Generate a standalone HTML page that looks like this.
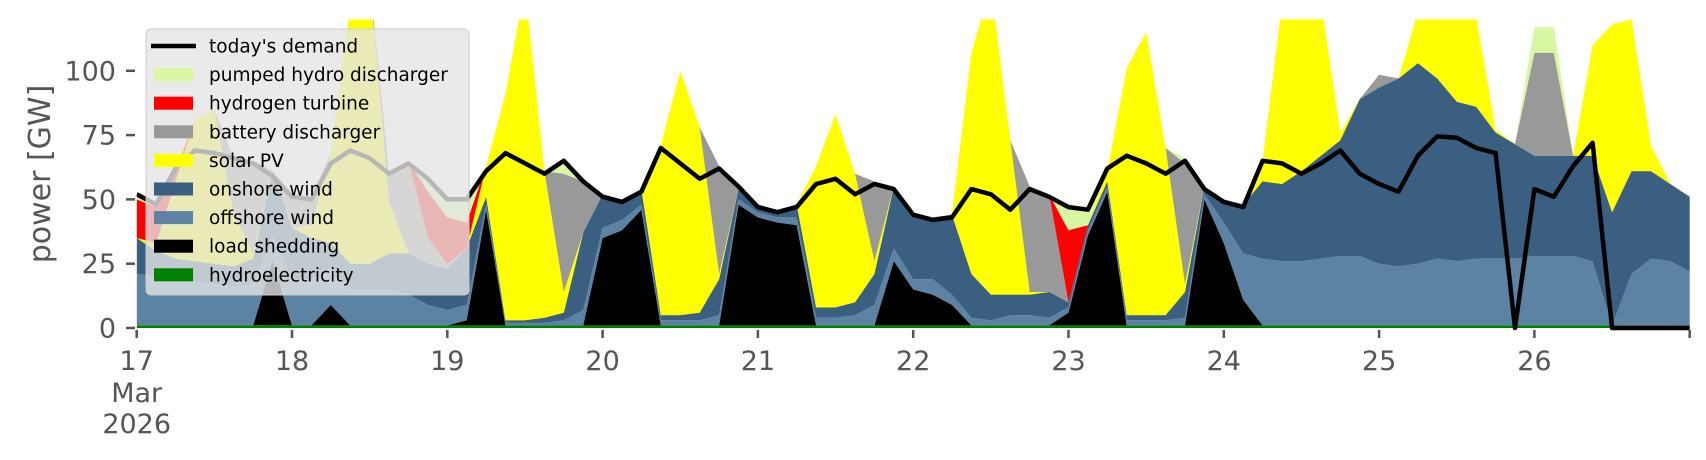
<!DOCTYPE html>
<html><head><meta charset="utf-8"><style>
html,body{margin:0;padding:0;background:#fff;}
svg{display:block;font-family:"DejaVu Sans","Liberation Sans",sans-serif;}
</style></head><body>
<svg id="chart" width="1706" height="460" viewBox="0 0 1706 460" xmlns="http://www.w3.org/2000/svg">
<defs><clipPath id="plotclip"><rect x="136.7" y="19.4" width="1553.3" height="312"/></clipPath></defs>
<g id="areas" clip-path="url(#plotclip)"></g>
<g id="demandg" clip-path="url(#plotclip)"></g>
<g id="axes"></g>
<text x="0" y="0" transform="translate(50,174) rotate(-90)" text-anchor="middle" font-size="30" fill="#555">power [GW]</text>
<g id="legend"></g>
</svg>
<script>
// time grid: 3-hourly, t = 17 + i/8
const startDay = 17;
const stepDays = 0.125;
const hydroVals = [1,1,1,1,1,1,1,1.2,1,1,1,1,1,1,1,1,1,1,1,1,1,1,1,1,1,1,1,1,1,1,1,1,1,1,1,1,1,1,1,1,1,1,1,1,1,1,1,1,1,1,1,1,1,1,1,1,1,1,1,1,1,1,1,1,1,1,1,1,1,1,1,1,1,1,1,1,1,1,1,1,1];
const shedVals = [0,0,0,0,0,0,0,25, 0,0,8,0,0,0,0,0, 0,2,45,0,0,0,0,0, 34,37,45,0,0,0,0,47, 42,40,39,0,0,0,0,25, 14,12,8,0,0,0,0,0, 5,35,52,0,0,0,0,49, 32,10,0,0,0,0,0,0, 0,0,0,0,0,0,0,0, 0,0,0,0,0,0,0,0,0];
const offshoreVals = [20,19,18,17,16,15,16,10, 18,18,14,14,14,14,12,8, 6,6,2,1,1,1,2,6, 4,4,2,2,2,2,4,2, 2,2,3,3,3,4,8,5, 4,6,4,3,2,4,4,3, 2,2,2,2,2,2,3,2, 8,18,26,25,25,26,27,27, 24,23,24,26,25,26,26,26, 27,27,27,25,0,20,26,25,21];
const onshoreVals = [14,10,8,8,8,8,10,25, 20,16,10,10,10,14,16,16, 16,22,3,1,1,2,3,30, 13,8,6,2,2,3,14,4, 3,3,5,4,4,5,12,24, 26,24,31,17,10,8,8,10, 2,2,2,2,2,2,10,3, 9,19,30,30,35,40,45,61, 68.5,73,78,70,62,59,49,44.5, 39,39,39,41,44,40,34,30,29];
const solarVals = [0,3,30,55,60,20,2,0, 0,5,35,100,110,20,0,0, 0,0,12,88,130,57,8,0, 0,0,0,66,95,72,2,0, 0,0,0,55,75,50,5,0, 0,0,0,86,120,60,1,0, 0,0,4,96,110,65,3,0, 0,0,8,70,70,60,3,0, 0,0,20,40,50,35,1,0, 0,0,0,43,73,59,10,0,0];
const batteryVals = [0,0,0,0,0,22,36,0, 13,11,0,0,0,12,36,10, 2,0,0,0,0,0,46,20, 0,0,0,0,0,0,42,2, 0,0,0,0,0,0,31,0, 0,0,0,0,0,0,41,38, 0,0,0,0,0,0,47,0, 0,0,0,0,0,0,0,0, 5,0,0,0,0,0,0,0, 40,40,0,0,0,0,0,0,0];
const hydrogenVals = [15,14,4,0,0,0,0,0, 0,0,0,0,0,0,0,18, 18,10,0,0,0,0,0,0, 0,0,0,0,0,0,0,0, 0,0,0,0,0,0,0,0, 0,0,0,0,0,0,0,0, 28,0,0,0,0,0,0,0, 0,0,0,0,0,0,0,0, 0,0,0,0,0,0,0,0, 0,0,0,0,0,0,0,0,0];
const pumpedVals = [3,2,2,0,0,0,0,0, 0,0,0,0,0,0,0,6, 8,10,0,0,0,0,6,0, 0,0,0,0,0,0,0,0, 0,0,0,0,0,0,0,0, 0,0,0,0,0,0,0,0, 10,7,0,0,0,0,2,0, 0,0,0,0,0,0,0,0, 0,0,0,0,0,0,0,0, 10,10,0,0,0,0,0,0,0];
const demandVals = [52,48,62,69,68,66,64,59, 51,50,64,69,66,60,64,58, 50,50,61,68,64,60,65,57, 51,49,53,70,64,58,62,55, 47,45,47,56,58,52,56,54, 44,42,43,54,52,46,54,51, 47,46,62,67,64,60,65,54, 49,47,65,64,60,64,69,60, 56,53,67,74.5,74,70,68,0, 54,51,63,72,0,0,0,0,0];
const yTicks = [0,25,50,75,100];
const xTickDays = [17,18,19,20,21,22,23,24,25,26,27];
const xTickLabels = ["17","18","19","20","21","22","23","24","25","26",""];

const NS = "http://www.w3.org/2000/svg";
const X0 = 136.7, PXDAY = 155.3, Y0 = 328, PXGW = 2.572;
function xs(t){ return X0 + (t - 17) * PXDAY; }
function ys(v){ return Y0 - v * PXGW; }
function tAt(i){ return startDay + i * stepDays; }

const series = [
  {name:"hydroelectricity", vals:hydroVals, color:"#008000"},
  {name:"load-shedding", vals:shedVals, color:"#000000"},
  {name:"offshore-wind", vals:offshoreVals, color:"#5c82a4"},
  {name:"onshore-wind", vals:onshoreVals, color:"#3a5f81"},
  {name:"solar-pv", vals:solarVals, color:"#ffff00"},
  {name:"battery-discharger", vals:batteryVals, color:"#999999"},
  {name:"hydrogen-turbine", vals:hydrogenVals, color:"#ff0000"},
  {name:"pumped-hydro-discharger", vals:pumpedVals, color:"#d9f7a3"}
];
const areas = document.getElementById("areas");
const n = demandVals.length;
let base = new Array(n).fill(0);
series.forEach(s => {
  const top = base.map((b,i) => b + (s.vals[i] || 0));
  let d = "";
  for (let i=0;i<n;i++) d += (i? "L":"M") + xs(tAt(i)).toFixed(1) + "," + ys(top[i]).toFixed(1);
  for (let i=n-1;i>=0;i--) d += "L" + xs(tAt(i)).toFixed(1) + "," + ys(base[i]).toFixed(1);
  d += "Z";
  const p = document.createElementNS(NS,"path");
  p.setAttribute("d", d);
  p.setAttribute("fill", s.color);
  
  
  areas.appendChild(p);
  base = top;
});

const dg = document.getElementById("demandg");
let dd = "";
for (let i=0;i<n;i++) dd += (i? "L":"M") + xs(tAt(i)).toFixed(1) + "," + ys(demandVals[i]).toFixed(1);
const dl = document.createElementNS(NS,"path");
dl.setAttribute("d", dd);
dl.setAttribute("fill","none");
dl.setAttribute("stroke","#000");
dl.setAttribute("stroke-width","4.5");
dl.setAttribute("stroke-linejoin","round");


dg.appendChild(dl);

const ax = document.getElementById("axes");
yTicks.forEach(v => {
  const l = document.createElementNS(NS,"line");
  l.setAttribute("x1",126); l.setAttribute("x2",135);
  l.setAttribute("y1",ys(v)); l.setAttribute("y2",ys(v));
  l.setAttribute("stroke","#555"); l.setAttribute("stroke-width","2.5");
  
  
  ax.appendChild(l);
  const tx = document.createElementNS(NS,"text");
  tx.setAttribute("x",116); tx.setAttribute("y",ys(v)+9.5);
  tx.setAttribute("text-anchor","end"); tx.setAttribute("font-size","27"); tx.setAttribute("fill","#555");
  tx.textContent = String(v);
  
  
  ax.appendChild(tx);
});
xTickDays.forEach((dday,k) => {
  const x = xs(dday);
  const l = document.createElementNS(NS,"line");
  l.setAttribute("x1",x); l.setAttribute("x2",x);
  l.setAttribute("y1",330); l.setAttribute("y2",338);
  l.setAttribute("stroke","#555"); l.setAttribute("stroke-width","2.5");
  
  
  ax.appendChild(l);
  if (xTickLabels[k]) {
    const tx = document.createElementNS(NS,"text");
    tx.setAttribute("x",x); tx.setAttribute("y",370);
    tx.setAttribute("text-anchor","middle"); tx.setAttribute("font-size","27"); tx.setAttribute("fill","#555");
    tx.textContent = xTickLabels[k];
    
    
    ax.appendChild(tx);
  }
});
[["Mar",402],["2026",433]].forEach(([s,y]) => {
  const tx = document.createElementNS(NS,"text");
  tx.setAttribute("x",xs(17)); tx.setAttribute("y",y);
  tx.setAttribute("text-anchor","middle"); tx.setAttribute("font-size","27"); tx.setAttribute("fill","#555");
  tx.textContent = s;
  
  
  ax.appendChild(tx);
});

const lg = document.getElementById("legend");
const box = document.createElementNS(NS,"rect");
box.setAttribute("x",146); box.setAttribute("y",29); box.setAttribute("width",323); box.setAttribute("height",266);
box.setAttribute("rx",5); box.setAttribute("fill","#e5e5e5"); box.setAttribute("fill-opacity","0.8");
box.setAttribute("stroke","#cccccc"); box.setAttribute("stroke-width","1");


lg.appendChild(box);
const legendItems = [
  ["today's demand", null],
  ["pumped hydro discharger", "#d9f7a3"],
  ["hydrogen turbine", "#ff0000"],
  ["battery discharger", "#999999"],
  ["solar PV", "#ffff00"],
  ["onshore wind", "#3a5f81"],
  ["offshore wind", "#5c82a4"],
  ["load shedding", "#000000"],
  ["hydroelectricity", "#008000"]
];
legendItems.forEach((it,k) => {
  const cy = 46 + k * 28.6;
  if (it[1] === null) {
    const l = document.createElementNS(NS,"line");
    l.setAttribute("x1",151); l.setAttribute("x2",196); l.setAttribute("y1",cy); l.setAttribute("y2",cy);
    l.setAttribute("stroke","#000"); l.setAttribute("stroke-width","4.5");
    
    
    lg.appendChild(l);
  } else {
    const r = document.createElementNS(NS,"rect");
    r.setAttribute("x",154); r.setAttribute("y",cy-6.5); r.setAttribute("width",39); r.setAttribute("height",13);
    r.setAttribute("fill",it[1]);
    
    
    lg.appendChild(r);
  }
  const tx = document.createElementNS(NS,"text");
  tx.setAttribute("x",209); tx.setAttribute("y",cy+6.5);
  tx.setAttribute("font-size","18.5"); tx.setAttribute("fill","#000");
  tx.textContent = it[0];
  
  
  lg.appendChild(tx);
});
</script>
</body></html>
